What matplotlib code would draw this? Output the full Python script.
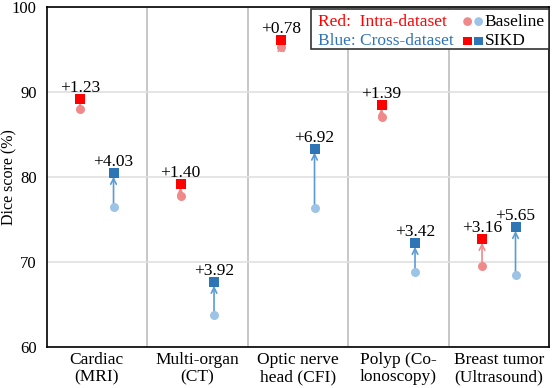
import numpy as np
import matplotlib
matplotlib.use("Agg")
import matplotlib.pyplot as plt

# ── data ──────────────────────────────────────────────────────────────────────
categories = ["Cardiac\n(MRI)", "Multi-organ\n(CT)", "Optic nerve\nhead (CFI)",
              "Polyp (Co-\nlonoscopy)", "Breast tumor\n(Ultrasound)"]
intra_base  = [87.95, 77.80, 95.32, 87.11, 69.54]
intra_sikd  = [89.18, 79.20, 96.10, 88.50, 72.70]
cross_base  = [76.44, 63.72, 76.40, 68.80, 68.45]
cross_sikd  = [80.47, 67.64, 83.32, 72.22, 74.10]
intra_gain  = ["+1.23", "+1.40", "+0.78", "+1.39", "+3.16"]
cross_gain  = ["+4.03", "+3.92", "+6.92", "+3.42", "+5.65"]

# ── style ─────────────────────────────────────────────────────────────────────
plt.rcParams["font.family"] = ["Liberation Serif", "DejaVu Serif"]
FS = 12.5
RED, RED_L = "#FF0000", "#F08A8A"
BLUE, BLUE_L = "#2E75B6", "#9DC3E6"
OFF = 1 / 6

fig, ax = plt.subplots(figsize=(5.54, 3.88), dpi=100)
fig.subplots_adjust(left=0.084, right=0.991, top=0.982, bottom=0.106)

x = np.arange(len(categories))

def draw(xs, base, sikd, gains, c_dark, c_light, c_arrow):
    for xi, b, s, g in zip(xs, base, sikd, gains):
        ax.annotate("", xy=(xi, s - 0.45), xytext=(xi, b),
                    arrowprops=dict(arrowstyle="->", color=c_arrow, lw=1.2,
                                    shrinkA=0, shrinkB=0), zorder=3)
        ax.text(xi, s + 0.35, g, ha="center", va="bottom", fontsize=FS)
    ax.scatter(xs, base, s=42, marker="o", color=c_light, zorder=4, linewidths=0)
    ax.scatter(xs, sikd, s=46, marker="s", color=c_dark, zorder=5, linewidths=0)

draw(x - OFF, intra_base, intra_sikd, intra_gain, RED, RED_L, RED_L)
draw(x + OFF, cross_base, cross_sikd, cross_gain, BLUE, BLUE_L, "#5B9BD5")

ax.set_xlim(-0.5, len(categories) - 0.5)
ax.set_ylim(60, 100)
ax.set_yticks([60, 70, 80, 90, 100])
ax.set_xticks(x)
ax.set_xticklabels(categories, fontsize=FS, linespacing=1.05)
ax.tick_params(axis="y", labelsize=12, length=0, pad=7)
ax.tick_params(axis="x", length=0, pad=4)
ax.set_ylabel("Dice score (%)", fontsize=11.5)
ax.yaxis.set_label_coords(-0.058, 0.5)

ax.grid(axis="y", color="#E0E0E0", lw=1.2, zorder=0)
for xv in x[:-1] + 0.5:
    ax.axvline(xv, color="#BDBDBD", lw=1.2, zorder=0)
for sp in ax.spines.values():
    sp.set_color("black")
    sp.set_linewidth(1.2)

# ── legend (drawn by hand) ────────────────────────────────────────────────────
ax.add_patch(plt.Rectangle((0.526, 0.876), 0.474, 0.118, transform=ax.transAxes,
                           fill=True, facecolor="white", edgecolor="#333333",
                           lw=1.2, zorder=6))
ax.text(0.54, 0.957, "Red:  Intra-dataset", color=RED, transform=ax.transAxes,
        fontsize=FS, va="center", zorder=7)
ax.text(0.54, 0.9, "Blue: Cross-dataset", color=BLUE, transform=ax.transAxes,
        fontsize=FS, va="center", zorder=7)
ax.scatter([0.838, 0.860], [0.957, 0.957], marker="o", s=40,
           color=[RED_L, BLUE_L], transform=ax.transAxes, zorder=7, linewidths=0)
ax.scatter([0.838, 0.860], [0.9, 0.9], marker="s", s=40,
           color=[RED, BLUE], transform=ax.transAxes, zorder=7, linewidths=0)
ax.text(0.872, 0.957, "Baseline", transform=ax.transAxes, fontsize=FS,
        va="center", zorder=7)
ax.text(0.872, 0.9, "SIKD", transform=ax.transAxes, fontsize=FS,
        va="center", zorder=7)

plt.savefig("out.png", dpi=100)
